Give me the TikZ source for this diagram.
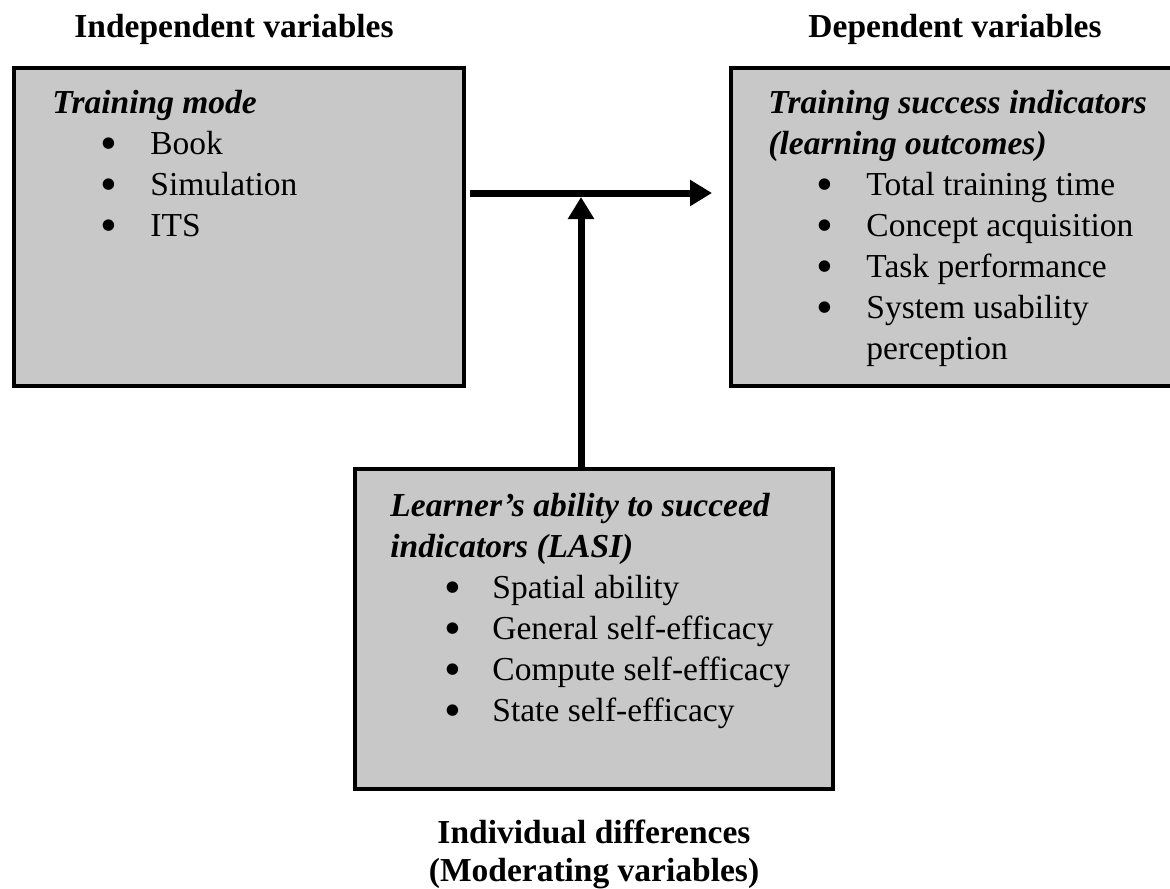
\documentclass[tikz,border=0pt]{standalone}
\usepackage{fontspec}
\setmainfont{Liberation Serif}
\usepackage{xcolor}
\usetikzlibrary{arrows.meta, positioning}
\definecolor{boxgray}{RGB}{200,200,200}
\newcommand{\dotmark}{\raisebox{-2.4pt}{\fontsize{24}{24}\selectfont\textbullet}}
\newcommand{\itm}{\hspace*{24pt}\makebox[25pt][l]{\dotmark}}
\newcommand{\itmb}{\hspace*{27pt}\makebox[24pt][l]{\dotmark}}

\begin{document}
\begin{tikzpicture}[
  font=\fontsize{16.75}{20.5}\selectfont,
  box/.style={draw, line width=2pt, fill=boxgray, inner sep=0pt},
  txt/.style={anchor=north west, align=left, inner sep=0pt},
  head/.style={font=\fontsize{16.75}{19}\selectfont\bfseries, align=center, inner sep=0pt},
  arr/.style={line width=3.5pt, -{Triangle[length=11pt, width=12.5pt]}}
]
\useasboundingbox (0,0) rectangle (585pt,-444pt);

\node[box, minimum width=225pt, minimum height=159pt] (mode) at (119.5pt,-113.5pt) {};
\node[box, minimum width=239.5pt, minimum height=159pt] (succ) at (485.25pt,-113.5pt) {};
\node[box, minimum width=239pt, minimum height=160pt] (lasi) at (297pt,-314.5pt) {};

\node[txt] (modetext) at ([xshift=20pt, yshift=-12pt]mode.north west)
  {\textbf{\textit{Training mode}}\\\itm Book\\\itm Simulation\\\itm ITS};
\node[txt] (succtext) at ([xshift=19.5pt, yshift=-12pt]succ.north west)
  {\textbf{\textit{Training success indicators}}\\\textbf{\textit{(learning outcomes)}}\\
   \itm Total training time\\\itm Concept acquisition\\\itm Task performance\\
   \itm System usability\\\hspace*{49pt}perception};
\node[txt] (lasitext) at ([xshift=18.5pt, yshift=-13pt]lasi.north west)
  {\textbf{\textit{Learner's ability to succeed}}\\\textbf{\textit{indicators (LASI)}}\\
   \itmb Spatial ability\\\itmb General self-efficacy\\\itmb Compute self-efficacy\\
   \itmb State self-efficacy};

\node[head, anchor=base] (indep) at (117pt,-19pt) {Independent variables};
\node[head, anchor=base] (dep) at (477.5pt,-19pt) {Dependent variables};
\node[head, below=14pt of lasi] (moder) {Individual differences\\(Moderating variables)};

\coordinate (junc) at (290.5pt,-96.5pt);
\draw[arr, shorten <=2pt, shorten >=8.5pt] (mode.east |- junc) -- (succ.west |- junc);
\draw[arr, shorten >=2pt] (lasi.north -| junc) -- (junc);
\end{tikzpicture}
\end{document}
